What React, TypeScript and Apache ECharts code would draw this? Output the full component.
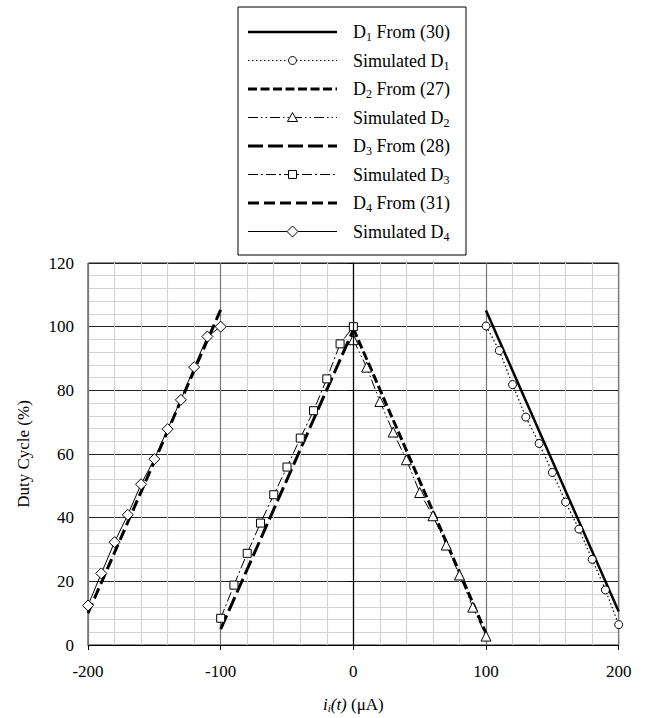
import React, { useEffect, useRef } from "react";
import * as echarts from "echarts";

const xTicks = [-200, -100, 0, 100, 200];
const yTicks = [0, 20, 40, 60, 80, 100, 120];

// Theoretical lines (endpoints)
const d1Theory = [[100, 105.1], [200, 10.5]];
const d2Theory = [[0, 99.4], [100, 3.7]];
const d3Theory = [[-100, 5.0], [0, 99.0]];
const d4Theory = [[-200, 10.0], [-100, 105.3]];

// Simulated points
const d1SimX = [100, 110, 120, 130, 140, 150, 160, 170, 180, 190, 200];
const d1SimY = [100.2, 92.5, 81.8, 71.6, 63.3, 54.2, 44.9, 36.4, 26.9, 17.3, 6.4];
const d2SimX = [0, 10, 20, 30, 40, 50, 60, 70, 80, 90, 100];
const d2SimY = [95.9, 87.3, 76.5, 66.9, 58.2, 47.9, 40.6, 31.4, 22.0, 11.9, 2.8];
const d3SimX = [-100, -90, -80, -70, -60, -50, -40, -30, -20, -10, 0];
const d3SimY = [8.4, 18.8, 28.8, 38.3, 47.2, 55.9, 65.0, 73.6, 83.6, 94.6, 100.0];
const d4SimX = [-200, -190, -180, -170, -160, -150, -140, -130, -120, -110, -100];
const d4SimY = [12.4, 22.5, 32.3, 40.9, 50.5, 58.4, 67.8, 77.0, 87.3, 96.9, 100.0];

const legendLabels = [
  ["D", "1", " From (30)"],
  ["Simulated D", "1", ""],
  ["D", "2", " From (27)"],
  ["Simulated D", "2", ""],
  ["D", "3", " From (28)"],
  ["Simulated D", "3", ""],
  ["D", "4", " From (31)"],
  ["Simulated D", "4", ""],
];

const FONT = "Liberation Serif";

const zip = (xs: number[], ys: number[]) => xs.map((x, i) => [x, ys[i]]);

const styles = [
  { width: 2.5, dash: null as number[] | null, symbol: "none" },
  { width: 1.2, dash: [1.5, 2.5], symbol: "circle" },
  { width: 3, dash: [9, 3.5], symbol: "none" },
  { width: 1, dash: [10, 3, 1.5, 3, 1.5, 3], symbol: "triangle" },
  { width: 3, dash: [15, 5], symbol: "none" },
  { width: 1, dash: [10, 3, 2, 3], symbol: "rect" },
  { width: 3, dash: [11, 5], symbol: "none" },
  { width: 1, dash: null as number[] | null, symbol: "diamond" },
];

const symbolSizes: Record<string, number> = { circle: 8, triangle: 10, rect: 8, diamond: 11 };

export default function App() {
  const ref = useRef<HTMLDivElement>(null);
  useEffect(() => {
    if (!ref.current) return;
    const chart = echarts.init(ref.current, undefined, { renderer: "svg" });

    const datasets = [
      d1Theory,
      zip(d1SimX, d1SimY),
      d2Theory,
      zip(d2SimX, d2SimY),
      d3Theory,
      zip(d3SimX, d3SimY),
      d4Theory,
      zip(d4SimX, d4SimY),
    ];

    const series: any[] = datasets.map((data, i) => {
      const st = styles[i];
      const isSim = st.symbol !== "none";
      return {
        type: "line",
        name: legendLabels[i].join(""),
        data,
        z: isSim ? 4 : 3,
        symbol: st.symbol,
        symbolSize: symbolSizes[st.symbol] || 0,
        showSymbol: isSim,
        itemStyle: { color: "#fff", borderColor: "#000", borderWidth: 1 },
        lineStyle: { color: "#000", width: st.width, type: st.dash ? st.dash : "solid" },
        silent: true,
      };
    });

    // x = 0 black reference line
    series.push({
      type: "line",
      data: [],
      z: 2,
      markLine: {
        silent: true,
        symbol: "none",
        label: { show: false },
        lineStyle: { color: "#000", width: 1.2, type: "solid" },
        data: [{ xAxis: 0 }],
      },
    });

    // Legend (graphic)
    const boxX = 238, boxY = 7, boxW = 228, boxH = 248;
    const rowY0 = 32, rowStep = 28.5;
    const lx1 = 248, lx2 = 337, mx = 292.5, tx = 353;
    const graphics: any[] = [
      {
        type: "rect",
        shape: { x: boxX, y: boxY, width: boxW, height: boxH },
        style: { fill: "#fff", stroke: "#000", lineWidth: 1 },
        z: 10,
      },
    ];
    legendLabels.forEach((lab, i) => {
      const y = rowY0 + i * rowStep;
      const st = styles[i];
      graphics.push({
        type: "line",
        shape: { x1: lx1, y1: y, x2: lx2, y2: y },
        style: { stroke: "#000", lineWidth: st.width, lineDash: st.dash || undefined },
        z: 11,
      });
      const ms = { fill: "#fff", stroke: "#000", lineWidth: 1 };
      if (st.symbol === "circle") {
        graphics.push({ type: "circle", shape: { cx: mx, cy: y, r: 4 }, style: ms, z: 12 });
      } else if (st.symbol === "triangle") {
        graphics.push({
          type: "polygon",
          shape: { points: [[mx, y - 5], [mx + 5, y + 4], [mx - 5, y + 4]] },
          style: ms,
          z: 12,
        });
      } else if (st.symbol === "rect") {
        graphics.push({ type: "rect", shape: { x: mx - 4, y: y - 4, width: 8, height: 8 }, style: ms, z: 12 });
      } else if (st.symbol === "diamond") {
        graphics.push({
          type: "polygon",
          shape: { points: [[mx, y - 5.5], [mx + 5.5, y], [mx, y + 5.5], [mx - 5.5, y]] },
          style: ms,
          z: 12,
        });
      }
      graphics.push({
        type: "text",
        x: tx,
        y: y,
        z: 12,
        style: {
          text: `{n|${lab[0]}}{s|${lab[1]}}{n|${lab[2]}}`,
          verticalAlign: "middle",
          align: "left",
          fill: "#000",
          fontFamily: FONT,
          fontSize: 18,
          rich: {
            n: { fontSize: 18, fontFamily: FONT, lineHeight: 22, verticalAlign: "middle", fill: "#000" },
            s: { fontSize: 12, fontFamily: FONT, lineHeight: 13, verticalAlign: "bottom", fill: "#000" },
          },
        },
      });
    });

    chart.setOption({
      animation: false,
      backgroundColor: "#fff",
      grid: {
        left: 88,
        right: 26.3,
        top: 263,
        bottom: 73,
        outerBoundsMode: "none",
        containLabel: false,
        show: true,
        borderColor: "#222",
        borderWidth: 1,
        backgroundColor: "transparent",
      },
      xAxis: {
        type: "value",
        min: xTicks[0],
        max: xTicks[xTicks.length - 1],
        interval: 100,
        axisLine: { show: true, onZero: false, lineStyle: { color: "#000", width: 1 } },
        axisTick: { show: true, length: 5, inside: false, lineStyle: { color: "#000" } },
        axisLabel: { fontFamily: FONT, fontSize: 17, color: "#000", margin: 18 },
        splitLine: { show: true, lineStyle: { color: "#777", width: 1.2 } },
        minorTick: { show: false, splitNumber: 5 },
        minorSplitLine: { show: true, lineStyle: { color: "#d2d2d2", width: 1.2 } },
        name: "{it|i}{sub|i}{it|(t)}{n| (μA)}",
        nameLocation: "middle",
        nameGap: 51,
        nameTextStyle: {
          fontFamily: FONT,
          fontSize: 17,
          color: "#000",
          rich: {
            it: { fontFamily: FONT, fontSize: 17, fontStyle: "italic", lineHeight: 17, verticalAlign: "middle" },
            sub: { fontFamily: FONT, fontSize: 11, fontStyle: "italic", lineHeight: 11, verticalAlign: "bottom" },
            n: { fontFamily: FONT, fontSize: 17, lineHeight: 17, verticalAlign: "middle" },
          },
        },
      },
      yAxis: {
        type: "value",
        min: yTicks[0],
        max: yTicks[yTicks.length - 1],
        interval: 20,
        axisLine: { show: true, lineStyle: { color: "#000", width: 1 } },
        axisTick: { show: true, length: 5, inside: false, lineStyle: { color: "#000" } },
        axisLabel: { fontFamily: FONT, fontSize: 17, color: "#000", margin: 14 },
        splitLine: { show: true, lineStyle: { color: "#222", width: 1.2 } },
        minorTick: { show: false, splitNumber: 5 },
        minorSplitLine: { show: true, lineStyle: { color: "#d2d2d2", width: 1.2 } },
        name: "Duty Cycle (%)",
        nameLocation: "middle",
        nameGap: 56,
        nameTextStyle: { fontFamily: FONT, fontSize: 17, color: "#000" },
      },
      series,
      graphic: graphics,
    });
    return () => chart.dispose();
  }, []);
  return (
    <div
      ref={ref}
      style={{ position: "fixed", left: 0, top: 0, width: 645, height: 718, background: "#fff" }}
    />
  );
}
